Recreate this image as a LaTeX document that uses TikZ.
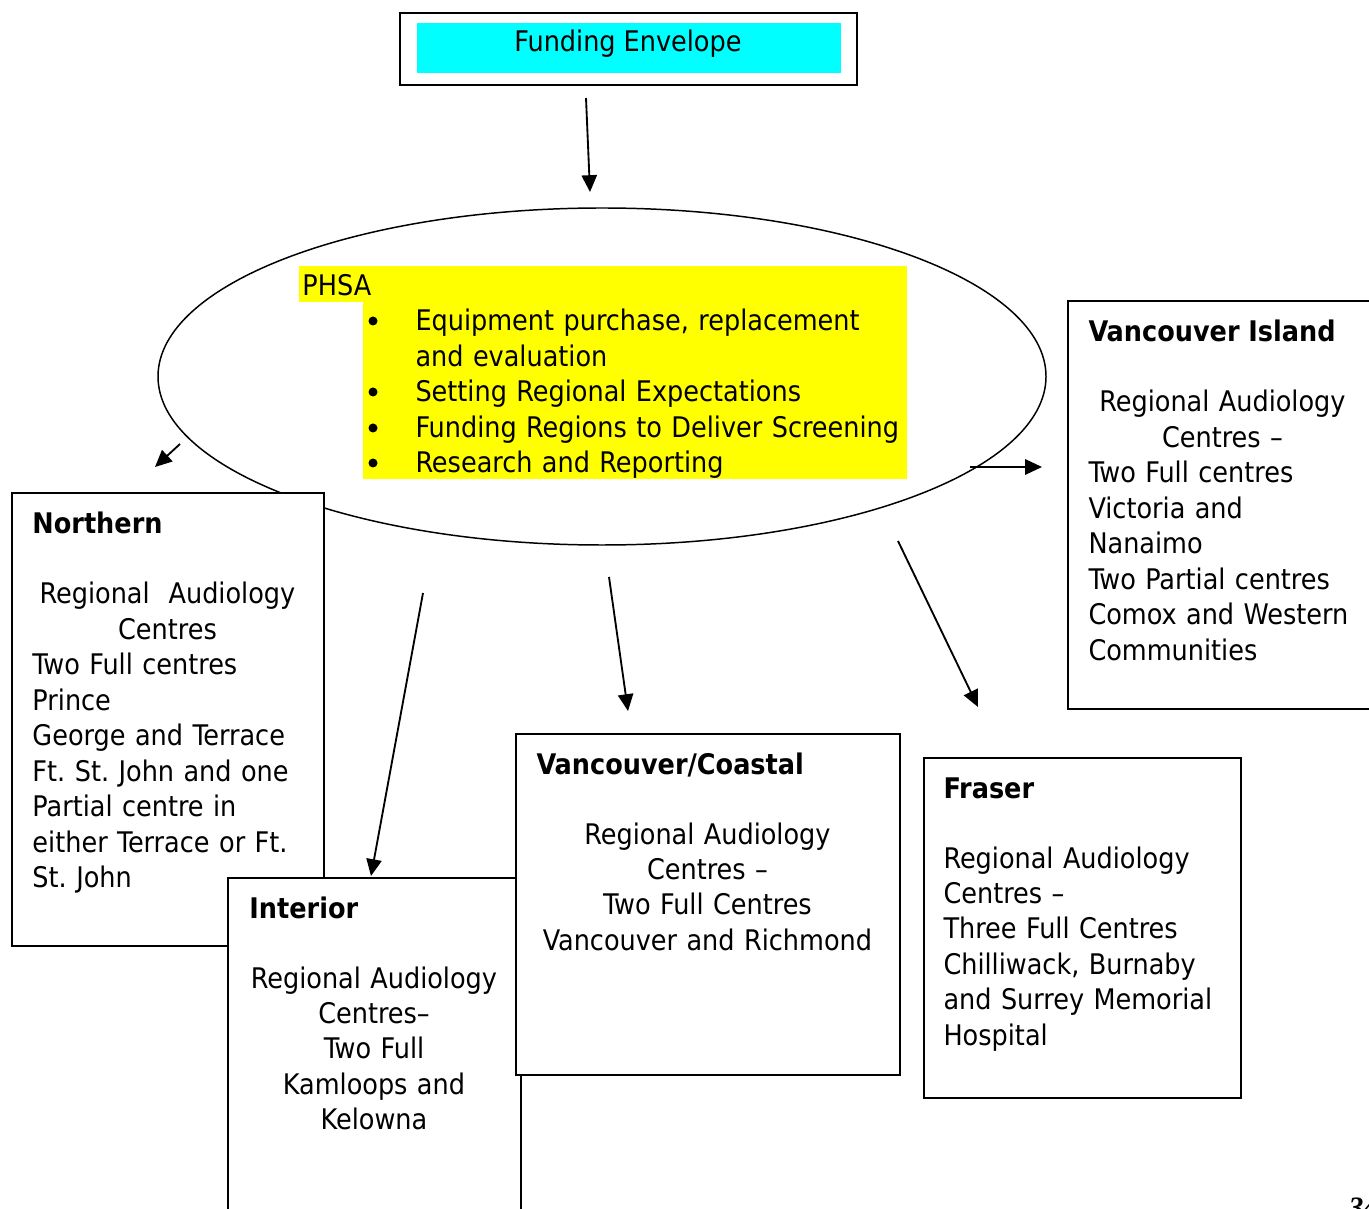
\documentclass[tikz,border=0pt]{standalone}
\usepackage{fontspec}
\setmainfont{DejaVu Sans Condensed}
\newfontfamily\pagefont{Liberation Serif}
\usetikzlibrary{shapes.geometric,arrows.meta}
\newdimen\px \px=0.405pt
\definecolor{envcyan}{RGB}{0,255,255}
\definecolor{phsayellow}{RGB}{255,255,0}
\tikzset{
  txt/.style={font=\fontsize{11.5}{14.35}\selectfont\frenchspacing, inner sep=0pt},
  head/.style={txt, font=\fontsize{11.5}{14.35}\selectfont\bfseries, anchor=base west},
  body/.style={txt, anchor=base west, text width=#1, align=left},
  cbody/.style={txt, anchor=base west, text width=#1, align=center},
  region/.style={draw, line width=0.8pt, fill=white, anchor=north west, inner sep=0pt},
  dot/.style={circle, fill=black, minimum size=9\px, inner sep=0pt},
  link/.style={-{Triangle[length=6.8pt,width=6.2pt]}, line width=0.75pt}
}
\begin{document}
\begin{tikzpicture}[x=0.405pt,y=-0.405pt]
  \useasboundingbox (0,0) rectangle (1369,1209);
  % funding envelope
  \node[region, minimum width=457\px, minimum height=72\px] (env) at (399,12) {};
  \node[anchor=north west, fill=envcyan, minimum width=424\px, minimum height=50\px, inner sep=0pt] (envfill) at (416,23) {};
  \node[txt, anchor=base] (envtext) at (628,52) {Funding Envelope};
  \coordinate (envtail) at (586,98);
  \coordinate (envtip) at (590,192);
  \draw[link] (envtail) -- (envtip);
  % PHSA
  \node[draw, ellipse, line width=0.6pt, minimum width=888\px, minimum height=337\px, inner sep=0pt] (phsa) at (602,376.5) {};
  \fill[phsayellow] (299,266) rectangle (907,302);
  \fill[phsayellow] (363,302) rectangle (907,479);
  \node[txt, anchor=base west] (phsatitle) at (302,296) {PHSA};
  \foreach \yy/\txt [count=\i] in {331/{Equipment purchase, replacement\\and evaluation},
      402/{Setting Regional Expectations}, 438/{Funding Regions to Deliver Screening},
      473/{Research and Reporting}} {
    \node[dot] (dot\i) at (373,\yy-10) {};
    \node[body=490\px] (item\i) at (415,\yy) {\txt};
  }
  \coordinate (northtail) at (180,444);
  \coordinate (northtip) at (155,467);
  \draw[link] (northtail) -- (northtip);
  \coordinate (islandtail) at (970,467);
  \coordinate (islandtip) at (1042,467);
  \draw[link] (islandtail) -- (islandtip);
  % Northern
  \node[region, minimum width=312\px, minimum height=453\px] (northern) at (11,492) {};
  \node[head] (northernhead) at (32,534) {Northern};
  \node[body=270\px] (northernbody) at (32,604) {{\centering Regional~ Audiology\\Centres\par}Two Full centres\\Prince\\George and Terrace\\Ft. St. John and one\\Partial centre in\\either Terrace or Ft.\\St. John};
  % Interior
  \node[region, minimum width=293\px, minimum height=360\px] (interior) at (227,877) {};
  \node[head] (interiorhead) at (249,918) {Interior};
  \node[cbody=249\px] (interiorbody) at (249,988) {Regional Audiology\\Centres--\\Two Full\\Kamloops and\\Kelowna};
  % Vancouver/Coastal
  \node[region, minimum width=384\px, minimum height=341\px] (coastal) at (515,733) {};
  \node[head] (coastalhead) at (536,774) {Vancouver/Coastal};
  \node[cbody=342\px] (coastalbody) at (536,844) {Regional Audiology\\Centres --\\Two Full Centres\\Vancouver and Richmond};
  % Fraser
  \node[region, minimum width=317\px, minimum height=340\px] (fraser) at (923,757) {};
  \node[head] (fraserhead) at (943,798) {Fraser};
  \node[body=280\px] (fraserbody) at (943,868) {Regional Audiology\\Centres --\\Three Full Centres\\Chilliwack, Burnaby\\and Surrey Memorial\\Hospital};
  % Vancouver Island
  \node[region, minimum width=310\px, minimum height=408\px] (island) at (1067,300) {};
  \node[head] (islandhead) at (1088,342) {Vancouver Island};
  \node[body=268\px] (islandbody) at (1088,412) {{\centering Regional Audiology\\Centres --\par}Two Full centres\\Victoria and\\Nanaimo\\Two Partial centres\\Comox and Western\\Communities};
  % arrows down to the regions
  \coordinate (interiortail) at (423,593);
  \coordinate (interiortip) at (371,876);
  \draw[link] (interiortail) -- (interiortip);
  \coordinate (coastaltail) at (609,577);
  \coordinate (coastaltip) at (628,711);
  \draw[link] (coastaltail) -- (coastaltip);
  \coordinate (frasertail) at (898,541);
  \coordinate (frasertip) at (978,707);
  \draw[link] (frasertail) -- (frasertip);
  \node[font=\pagefont\bfseries\itshape\fontsize{12}{14}\selectfont, anchor=base west, inner sep=0pt] (pageno) at (1348,1217) {34};
\end{tikzpicture}
\end{document}
